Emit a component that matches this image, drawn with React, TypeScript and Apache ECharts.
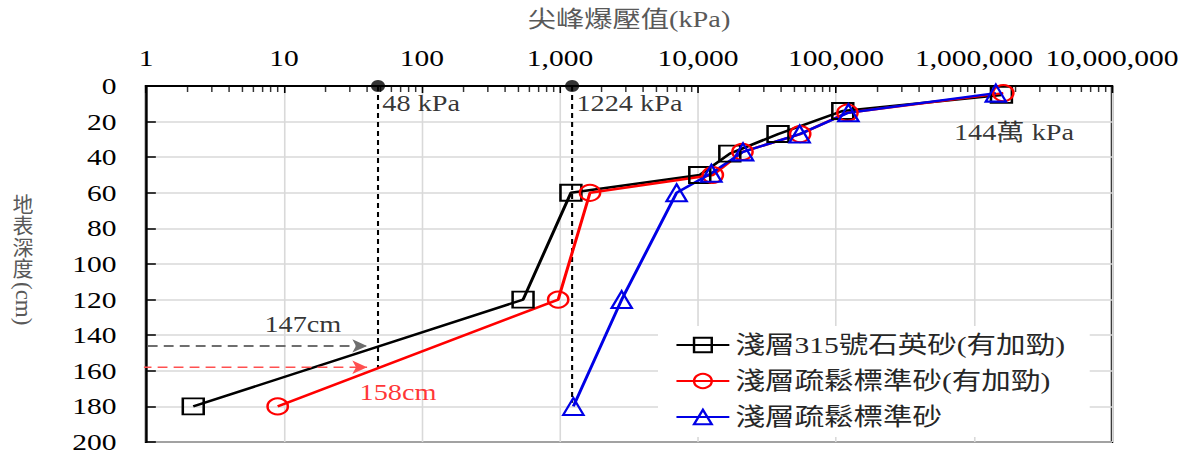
import React, { useEffect, useRef } from 'react';
import * as echarts from 'echarts';

// ---- data ----
const seriesNames = ['淺層315號石英砂(有加勁)', '淺層疏鬆標準砂(有加勁)', '淺層疏鬆標準砂'];
// [peak blast pressure (kPa), depth (cm)]
const quartzReinforced = [[2.2, 180], [540, 120], [1200, 60], [10300, 50], [17000, 38], [38000, 27], [112000, 14], [1580000, 5]];
const looseReinforced = [[9, 180], [970, 120], [1650, 60], [12800, 50], [21000, 37], [55000, 27], [121000, 15], [1630000, 4]];
const looseStandard = [[1250, 180], [2800, 120], [7000, 60], [12500, 49], [21200, 37], [54500, 27], [123000, 15], [1440000, 4]];

const xMin = 1;
const xMax = 10000000;
const depthMin = 0;
const depthMax = 200;
const depthStep = 20;
const minorMultipliers = [2, 3, 4, 5, 6, 7, 8, 9];
const decades = [1, 10, 100, 1000, 10000, 100000, 1000000];

// threshold pressures and the depth their dashed guide reaches
const thresholdValues = [48, 1224];
const thresholdDepths = [159, 178];
// depth arrows: [depth, start pressure, end pressure]
const grayArrow = [146, 1.03, 40];
const redArrow = [158, 0.93, 40];

const notes = [
  { x: 48, y: 10, text: '48 kPa', color: '#000', position: 'right' },
  { x: 1224, y: 10, text: '1224 kPa', color: '#000', position: 'right' },
  { x: 1950000, y: 26, text: '144萬 kPa', color: '#000', position: 'inside' },
  { x: 13.7, y: 134, text: '147cm', color: '#000', position: 'inside' },
  { x: 67, y: 172, text: '158cm', color: '#ff0000', position: 'inside' },
];
const yNameChars = ['地', '表', '深', '度'];

const FONT = '"Liberation Serif", "Times New Roman", "Noto Sans CJK TC", serif';
const K = 1.23; // the reference picture is horizontally stretched
const W = 1188;
const H = 454;

const minorTicks: number[][] = [];
decades.forEach((d) => minorMultipliers.forEach((m) => minorTicks.push([d * m, depthMin])));

function lineSeries(name: string, data: number[][], color: string, symbol: string, size: number[]) {
  return {
    name,
    type: 'line',
    data,
    symbol,
    symbolSize: size,
    lineStyle: { color, width: 2.5 },
    itemStyle: { color: 'transparent', borderColor: color, borderWidth: 2 },
    emphasis: { disabled: true },
    z: 3,
  };
}

function arrowSeries(a: number[], color: string, width: number) {
  return {
    type: 'line', silent: true, clip: false, z: 4,
    data: [
      { value: [a[1], a[0]], symbol: 'none' },
      { value: [a[2], a[0]], symbol: 'arrow', symbolSize: [10, 12], symbolRotate: -90 },
    ],
    itemStyle: { color },
    lineStyle: { color, width, type: [8, 5] },
  };
}

export default function App() {
  const ref = useRef<HTMLDivElement>(null);
  useEffect(() => {
    if (!ref.current) return;
    const chart = echarts.init(ref.current, undefined, { renderer: 'svg' });
    const option: any = {
      animation: false,
      backgroundColor: '#fff',
      grid: {
        left: 146 / K, top: 86, width: 966 / K, height: 356,
        show: true, borderColor: '#000', borderWidth: 2, backgroundColor: 'transparent',
      },
      xAxis: {
        type: 'log', logBase: 10, min: xMin, max: xMax, position: 'top',
        name: '尖峰爆壓值(kPa)', nameLocation: 'middle', nameGap: 55,
        nameTextStyle: { fontFamily: FONT, fontSize: 23, color: '#595959' },
        axisLine: { show: true, lineStyle: { color: '#000', width: 2 } },
        axisTick: { show: true, inside: true, length: 7, lineStyle: { color: '#000', width: 1.3 } },
        axisLabel: {
          fontFamily: FONT, fontSize: 24, color: '#000', margin: 16,
          formatter: (v: number) => Math.round(v).toLocaleString('en-US'),
        },
        splitLine: { show: true, lineStyle: { color: '#d9d9d9', width: 1.3 } },
      },
      yAxis: {
        type: 'value', inverse: true, min: depthMin, max: depthMax, interval: depthStep,
        axisLine: { show: true, lineStyle: { color: '#000', width: 2 } },
        axisTick: { show: true, inside: true, length: 8, lineStyle: { color: '#000', width: 1.5 } },
        axisLabel: { fontFamily: FONT, fontSize: 24, color: '#000', margin: 24 },
        splitLine: { show: true, lineStyle: { color: '#d9d9d9', width: 1.5 } },
      },
      legend: {
        data: seriesNames,
        orient: 'vertical', left: 658 / K, top: 326,
        backgroundColor: '#fff', padding: [7, 20, 8, 14],
        itemWidth: 43, itemHeight: 18, itemGap: 12,
        textStyle: { fontFamily: FONT, fontSize: 24, color: '#262626', lineHeight: 24 },
        selectedMode: false,
      },
      graphic: [
        ...yNameChars.map((c, i) => ({
          type: 'text', x: 23 / K, y: 194 + i * 21.5, scaleX: 1 / K,
          style: { text: c, font: `21px ${FONT}`, fill: '#595959', align: 'center', verticalAlign: 'top' },
        })),
        {
          type: 'text', x: 23 / K, y: 282, rotation: -Math.PI / 2, scaleY: 1 / K,
          style: { text: '(cm)', font: `23px ${FONT}`, fill: '#595959', align: 'left', verticalAlign: 'middle' },
        },
      ],
      series: [
        // minor log ticks along the top axis
        {
          type: 'scatter', data: minorTicks, symbol: 'rect', symbolSize: [1.2, 6], symbolOffset: [0, 3],
          itemStyle: { color: '#000' }, silent: true, clip: false, z: 5,
        },
        // threshold guides
        ...thresholdValues.map((v, i) => ({
          type: 'line', data: [[v, depthMin], [v, thresholdDepths[i]]], symbol: 'none', silent: true,
          lineStyle: { color: '#000', width: 1.7, type: [5, 4] }, z: 2,
        })),
        {
          type: 'scatter', data: thresholdValues.map((v) => [v, depthMin]), symbol: 'circle', symbolSize: [11.5, 12],
          itemStyle: { color: '#000' }, silent: true, clip: false, z: 6,
        },
        // depth arrows
        arrowSeries(grayArrow, '#6e6e6e', 2),
        arrowSeries(redArrow, '#ff5050', 1.6),
        lineSeries(seriesNames[0], quartzReinforced, '#000000', 'rect', [17, 16]),
        lineSeries(seriesNames[1], looseReinforced, '#ff0000', 'circle', [16.5, 16]),
        lineSeries(seriesNames[2], looseStandard, '#0000e6', 'triangle', [16.5, 17]),
        // text annotations
        {
          type: 'scatter', silent: true, clip: false, symbol: 'circle', symbolSize: 1,
          itemStyle: { color: 'transparent' }, z: 7,
          data: notes.map((n) => ({
            value: [n.x, n.y],
            label: {
              show: true, formatter: n.text, position: n.position, distance: 3,
              fontFamily: FONT, fontSize: 23, color: n.color,
            },
          })),
        },
      ],
    };
    chart.setOption(option);
    return () => chart.dispose();
  }, []);
  return (
    <div style={{ position: 'fixed', left: 0, top: 0, width: W, height: H, overflow: 'hidden', background: '#fff' }}>
      <div
        ref={ref}
        style={{ width: W / K, height: H, transform: `scaleX(${K})`, transformOrigin: '0 0' }}
      />
    </div>
  );
}
